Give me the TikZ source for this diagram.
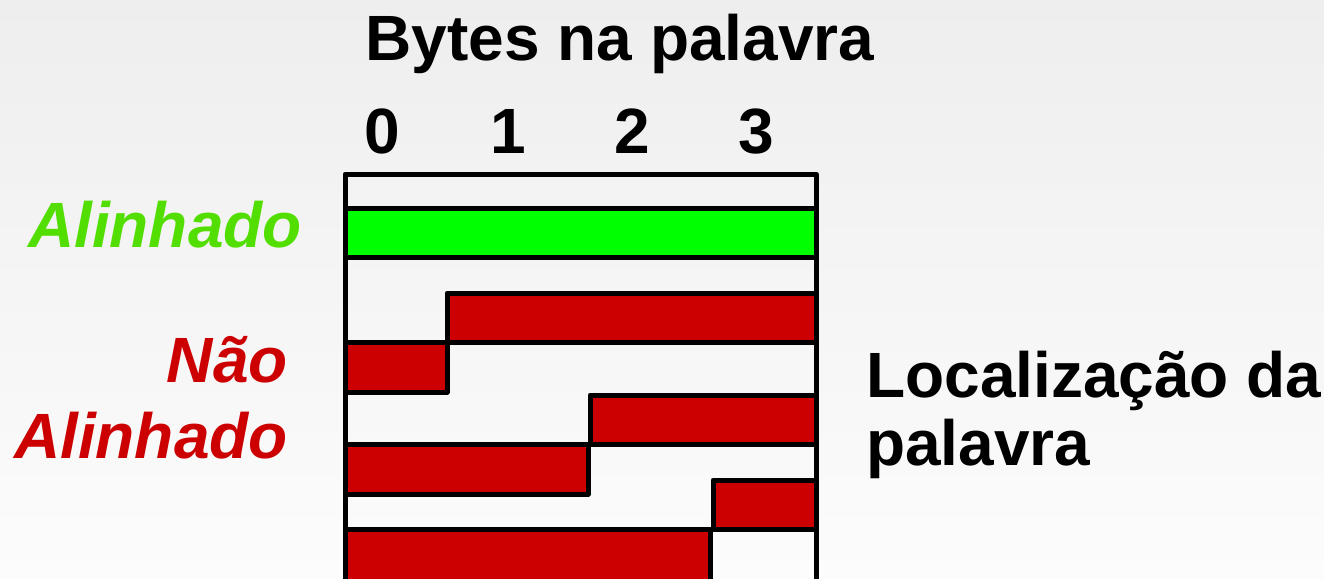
\documentclass[tikz,border=0pt]{standalone}
\usepackage{fontspec}
\setmainfont{Liberation Sans}
\definecolor{barGreen}{RGB}{0,255,0}
\definecolor{txtGreen}{RGB}{82,222,0}
\definecolor{barRed}{RGB}{204,0,0}
\definecolor{bgTop}{RGB}{238,238,238}
\definecolor{bgBot}{RGB}{252,252,252}
\begin{document}
\begin{tikzpicture}[x=1pt,y=-1pt,
  cell/.style={draw=black,line width=5pt,line join=round},
  redcell/.style={cell,fill=barRed},
  bigtxt/.style={font=\fontsize{64}{70}\selectfont\bfseries,inner sep=0pt},
  sidetxt/.style={font=\fontsize{64}{70}\selectfont\bfseries\itshape,inner sep=0pt}]
\useasboundingbox (0,0) rectangle (1324,578);
\shade[top color=bgTop,bottom color=bgBot] (0,0) rectangle (1324,578);
\begin{scope}
\clip (0,0) rectangle (1324,578);
% frame
\draw[cell] (345,600) -- (345,174) -- (816,174) -- (816,600);
% aligned word
\draw[cell,fill=barGreen] (345,208) rectangle (816,257);
% unaligned words
\draw[redcell] (447,293) rectangle (816,342);
\draw[redcell] (345,342) rectangle (447,392);
\draw[redcell] (590,395) rectangle (816,444);
\draw[redcell] (345,444) rectangle (588,494);
\draw[redcell] (713,480) rectangle (816,529);
\draw[redcell] (345,529) rectangle (710,600);
\draw[cell] (710,529) rectangle (816,600);
\end{scope}
% texts
\node[bigtxt,anchor=base] (title) at (620,60) {Bytes na palavra};
\node[bigtxt,anchor=base] (b0) at (382,153) {0};
\node[bigtxt,anchor=base] (b1) at (508,153) {1};
\node[bigtxt,anchor=base] (b2) at (632,153) {2};
\node[bigtxt,anchor=base] (b3) at (756,153) {3};
\node[sidetxt,anchor=base east,text=txtGreen] (al) at (302,247) {Alinhado};
\node[sidetxt,anchor=base east,text=barRed] (nao) at (288,382) {Não};
\node[sidetxt,anchor=base east,text=barRed] (nal) at (288,458) {Alinhado};
\node[bigtxt,anchor=base west] (loc) at (866,397) {Localização da};
\node[bigtxt,anchor=base west] (pal) at (866,465) {palavra};
\end{tikzpicture}
\end{document}
